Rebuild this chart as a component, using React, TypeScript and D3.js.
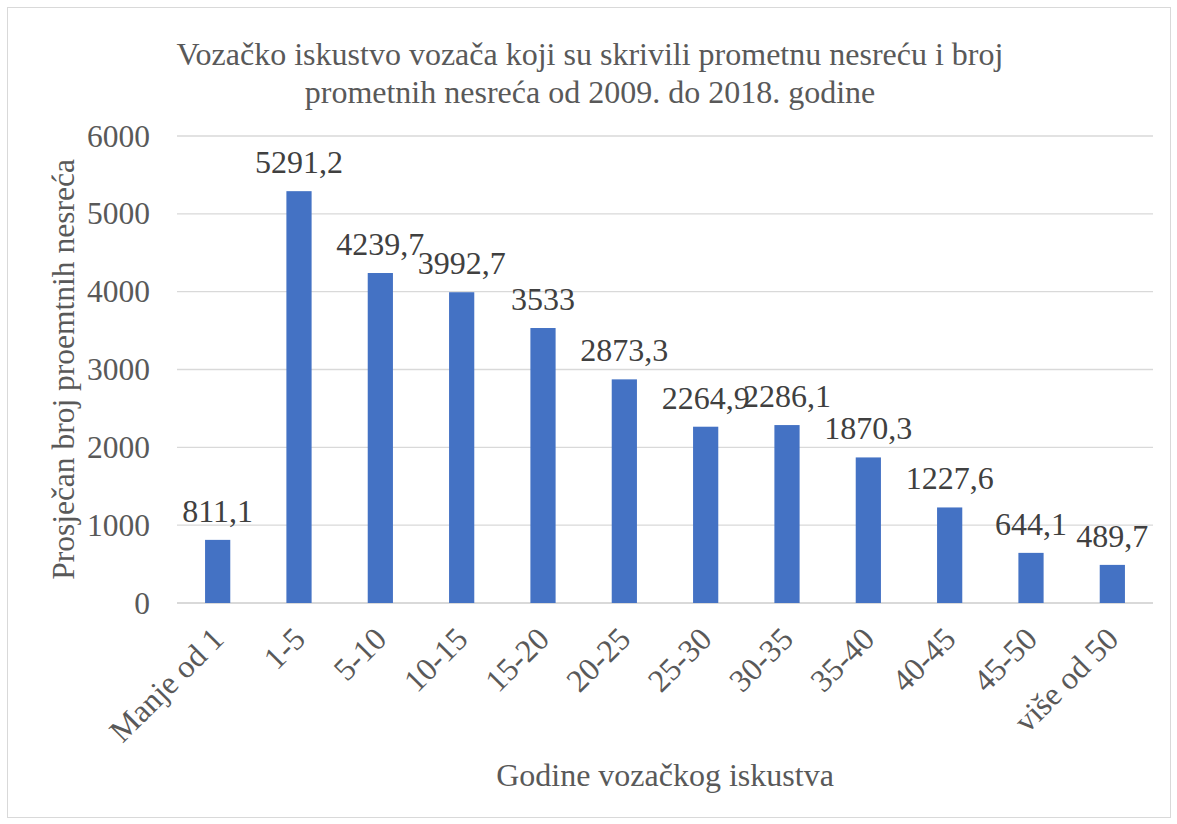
import React from "react";
import * as d3 from "d3";

const categories = ["Manje od 1", "1-5", "5-10", "10-15", "15-20", "20-25", "25-30", "30-35", "35-40", "40-45", "45-50", "više od 50"];
const values = [811.1, 5291.2, 4239.7, 3992.7, 3533, 2873.3, 2264.9, 2286.1, 1870.3, 1227.6, 644.1, 489.7];
const valueLabels = ["811,1", "5291,2", "4239,7", "3992,7", "3533", "2873,3", "2264,9", "2286,1", "1870,3", "1227,6", "644,1", "489,7"];
const yTicks = [0, 1000, 2000, 3000, 4000, 5000, 6000];
const titleLines = ["Vozačko iskustvo vozača koji su skrivili prometnu nesreću i broj", "prometnih nesreća od 2009. do 2018. godine"];
const xTitle = "Godine vozačkog iskustva";
const yTitle = "Prosječan broj proemtnih nesreća";

const W = 1177, H = 824;
const left = 177, right = 1153, top = 136, bottom = 603;
const font = "'Liberation Serif', 'Times New Roman', serif";
const textColor = "#595959";

export default function App() {
  const x = d3.scaleBand<string>().domain(categories).range([left, right]).paddingInner(0.69).paddingOuter(0.345);
  const y = d3.scaleLinear().domain([0, 6000]).range([bottom, top]);
  return (
    <svg width={W} height={H} style={{ position: "absolute", left: 0, top: 0 }}>
      <rect x={0} y={0} width={W} height={H} fill="#fff" />
      <rect x={7.5} y={7.5} width={1163} height={810} fill="#fff" stroke="#d9d9d9" strokeWidth={1} />
      {titleLines.map((t, i) => (
        <text key={i} x={590} y={65 + i * 38} textAnchor="middle" fontFamily={font} fontSize={32} fill={textColor}>{t}</text>
      ))}
      {yTicks.map((t) => (
        <g key={t}>
          <line x1={left} x2={right} y1={y(t)} y2={y(t)} stroke="#d9d9d9" strokeWidth={t === 0 ? 2 : 1.3} />
          <text x={150} y={y(t) + 10.5} textAnchor="end" fontFamily={font} fontSize={31.5} fill={textColor}>{t}</text>
        </g>
      ))}
      {categories.map((c, i) => (
        <g key={c}>
          <rect x={x(c)} y={y(values[i])} width={x.bandwidth()} height={y(0) - y(values[i])} fill="#4472C4" />
          <text x={(x(c) as number) + x.bandwidth() / 2} y={y(values[i]) - 18} textAnchor="middle" fontFamily={font} fontSize={32} fill="#404040">{valueLabels[i]}</text>
          <text transform={`translate(${(x(c) as number) + x.bandwidth() / 2 + 8},${bottom + 38}) rotate(-45)`} textAnchor="end" fontFamily={font} fontSize={32} fill={textColor}>{c}</text>
        </g>
      ))}
      <text x={665} y={786} textAnchor="middle" fontFamily={font} fontSize={32} fill={textColor}>{xTitle}</text>
      <text transform={`translate(74,${(top + bottom) / 2}) rotate(-90)`} textAnchor="middle" fontFamily={font} fontSize={31.5} fill={textColor}>{yTitle}</text>
    </svg>
  );
}
